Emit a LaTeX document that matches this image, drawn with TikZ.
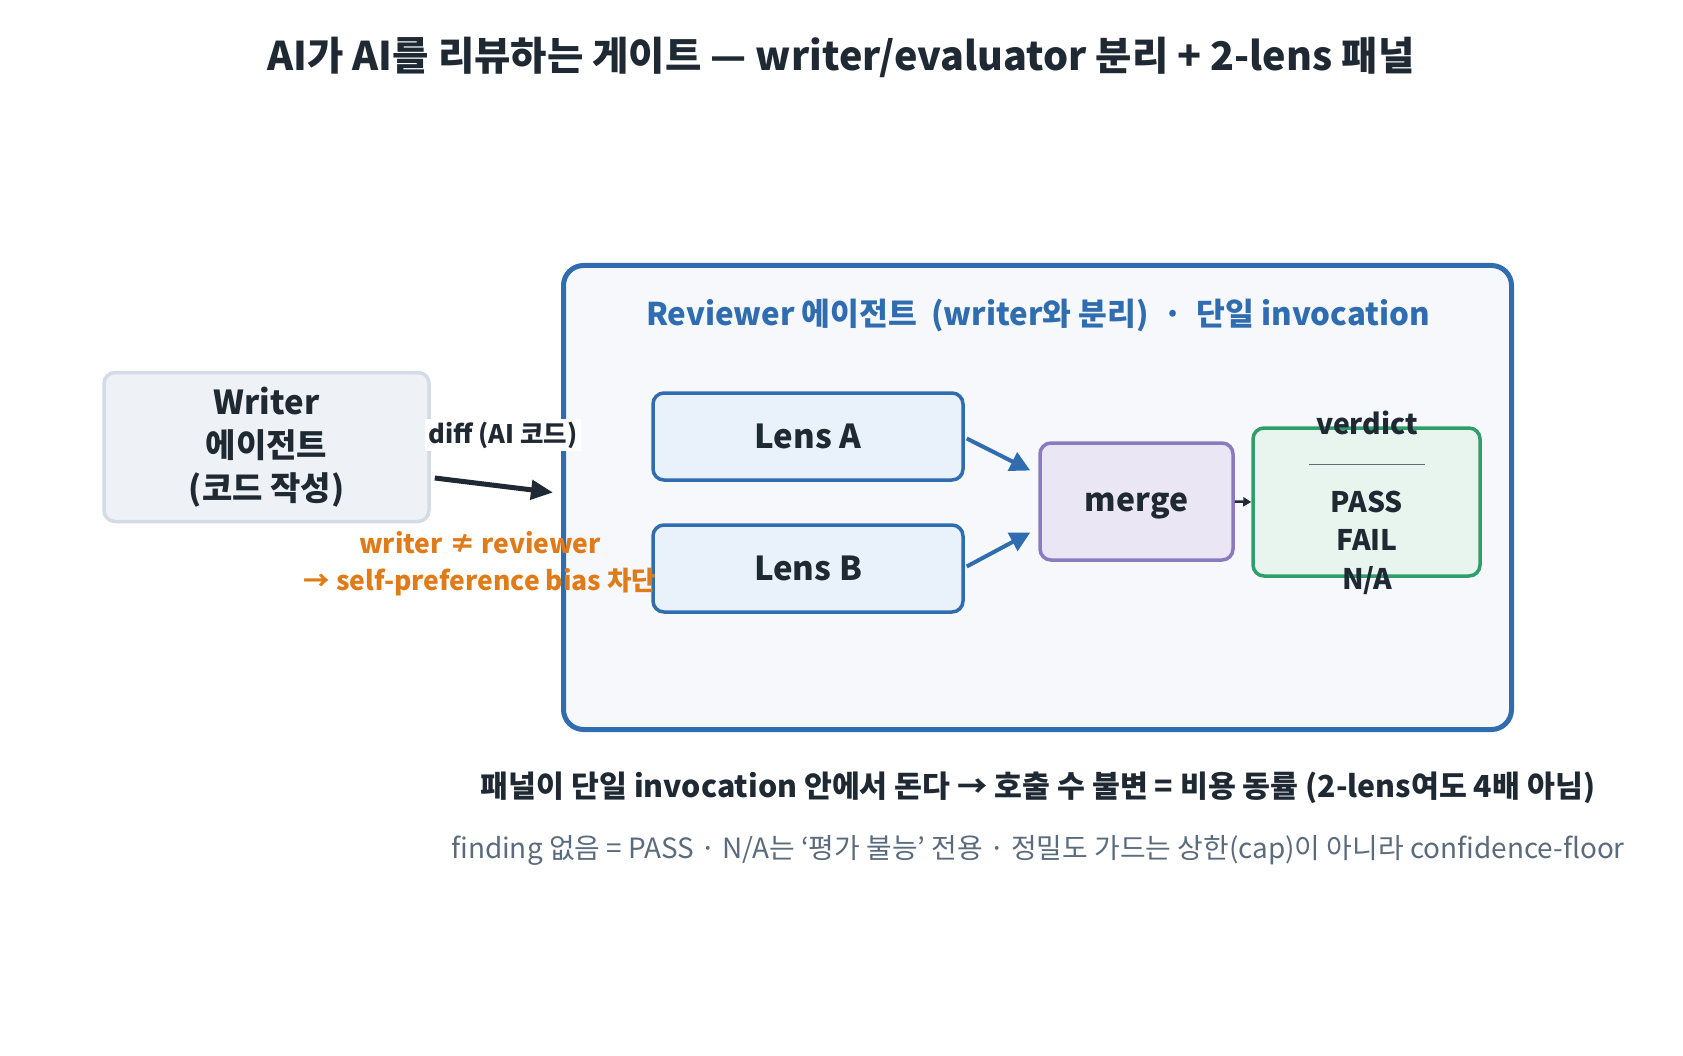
\documentclass[tikz,border=0pt]{standalone}
\usepackage{fontspec}
\setmainfont{Noto Sans CJK KR}
\usetikzlibrary{arrows.meta,positioning}
\definecolor{ink}{HTML}{1F2933}
\definecolor{blueline}{HTML}{2F6DB0}
\definecolor{bluefill}{HTML}{E9F1FA}
\definecolor{panelfill}{HTML}{F6F8FC}
\definecolor{writerline}{HTML}{D3DCE6}
\definecolor{writerfill}{HTML}{EEF1F6}
\definecolor{mergeline}{HTML}{8C7ABF}
\definecolor{mergefill}{HTML}{EBE6F4}
\definecolor{verdictline}{HTML}{2E9E6B}
\definecolor{verdictfill}{HTML}{E8F4EE}
\definecolor{orangetxt}{HTML}{E07B1A}
\definecolor{graytxt}{HTML}{5A6B7E}

\begin{document}
\begin{tikzpicture}[x=1pt, y=-1pt,
    every node/.style = {align=center, text=ink, inner sep=0pt},
    box/.style = {draw, rounded corners=11pt, line width=3.5pt, font=\bfseries\fontsize{33}{43}\selectfont},
    lens/.style = {box, draw=blueline, fill=bluefill, minimum width=310pt, minimum height=87pt},
    arr/.style = {line width=4pt, draw=blueline, -{Triangle[length=20pt,width=20pt]}}]
\useasboundingbox (0,0) rectangle (1683,1056);

\node[font=\bfseries\fontsize{39.5}{44}\selectfont] (title) at (841,57)
    {AI가 AI를 리뷰하는 게이트 — writer/evaluator 분리 + 2-lens 패널};

\node[draw=blueline, fill=panelfill, line width=5pt, rounded corners=20pt,
    minimum width=948pt, minimum height=464pt] (panel) at (1037.5,497.5) {};
\node[text=blueline, font=\bfseries\fontsize{31.3}{36}\selectfont] (paneltitle) at (1038,315)
    {Reviewer 에이전트\ \ (writer와 분리)\ \ ·\ \ 단일 invocation};

\node[box, draw=writerline, fill=writerfill, minimum width=325pt, minimum height=149pt] (writer) at (266.5,447)
    {Writer\\에이전트\\(코드 작성)};

\node[lens] (lensA) at (808,436.5) {Lens A};
\node[lens] (lensB) at (808,568.5) {Lens B};
\node[box, draw=mergeline, fill=mergefill, minimum width=193pt, minimum height=117pt] (merge) at (1136.5,501.5) {};
\node[font=\bfseries\fontsize{32}{38}\selectfont] (mergetext) at (1136.5,506) {merge};
\node[box, draw=verdictline, fill=verdictfill, minimum width=227pt, minimum height=148pt] (verdict) at (1366.5,502) {};
\node[font=\bfseries\fontsize{28.3}{38.6}\selectfont] (verdicttext) at (1367,503)
    {verdict\\\raisebox{9pt}{\color{ink!70}\rule{116pt}{1pt}}\\PASS\\FAIL\\N/A};

\draw[line width=5pt, draw=ink, -{Triangle[length=22pt,width=19pt]}]
    ([shift={(4,31)}]writer.east) -- ([shift={(-8,-5)}]panel.west);
\node[fill=white, inner sep=3pt, font=\bfseries\fontsize{25.5}{30}\selectfont] (diff) at (503,435) {diff (AI 코드)};
\node[text=orangetxt, font=\bfseries\fontsize{26.5}{37}\selectfont] (bias) at (480,564)
    {writer ≠ reviewer\\→ self-preference bias 차단};

\draw[arr] ([shift={(2,2)}]lensA.east) -- ([shift={(-8,-31)}]merge.west);
\draw[arr] ([shift={(2,-2)}]lensB.east) -- ([shift={(-8,31)}]merge.west);
\draw[line width=2.5pt, draw=ink, -{Triangle[length=8pt,width=9pt]}] (merge.east) -- (verdict.west);

\node[font=\bfseries\fontsize{30.3}{34}\selectfont] (note1) at (1038,788)
    {패널이 단일 invocation 안에서 돈다 → 호출 수 불변 = 비용 동률 (2-lens여도 4배 아님)};
\node[text=graytxt, font=\fontsize{27.9}{32}\selectfont] (note2) at (1038,850)
    {finding 없음 = PASS · N/A는 ‘평가 불능’ 전용 · 정밀도 가드는 상한(cap)이 아니라 confidence-floor};
\end{tikzpicture}
\end{document}
